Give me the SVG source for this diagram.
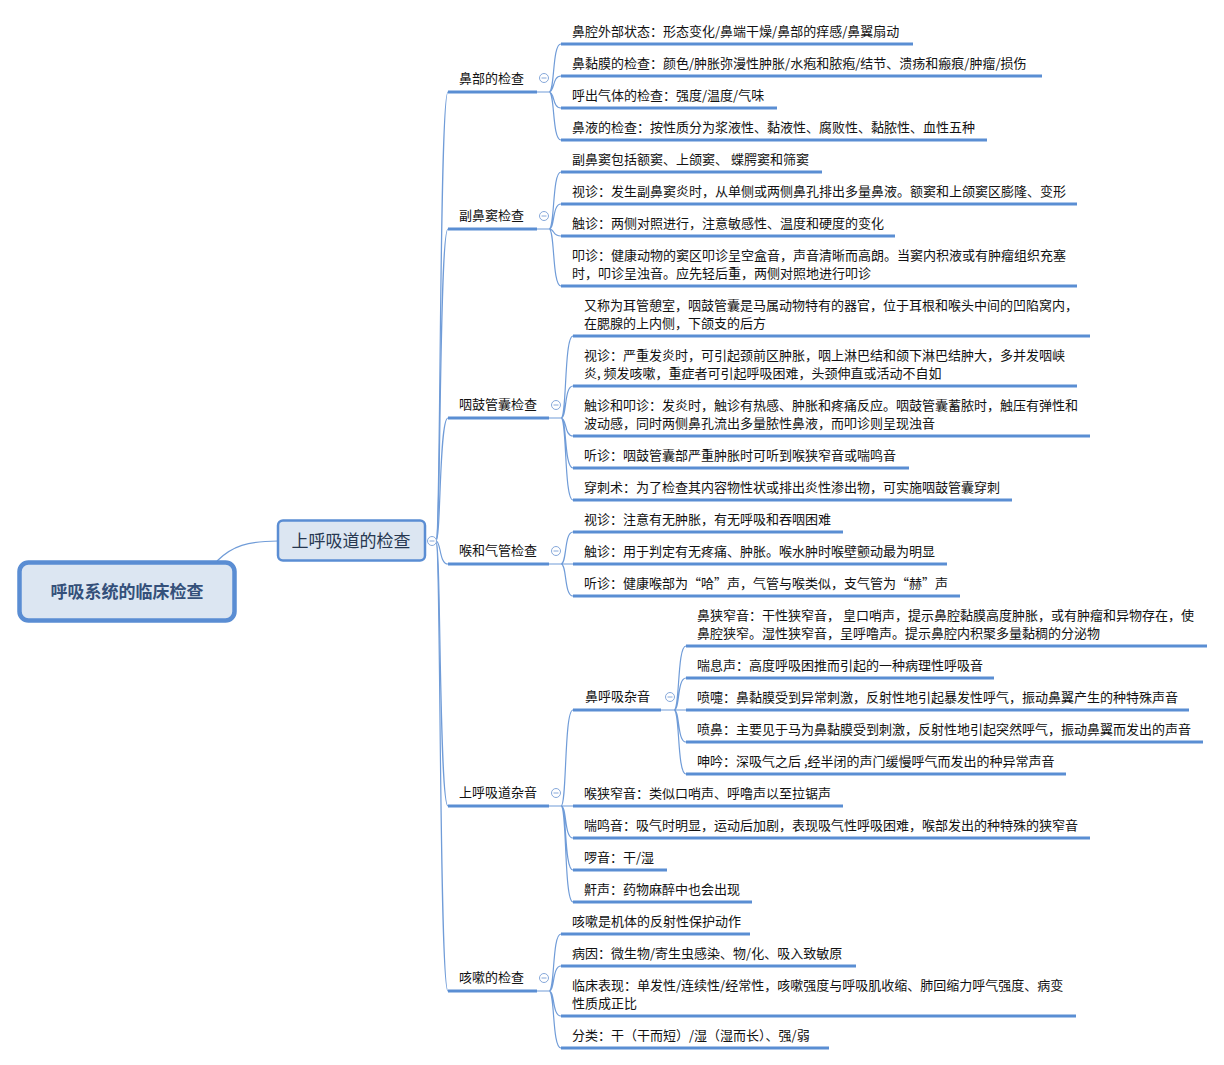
<svg xmlns="http://www.w3.org/2000/svg" width="1224" height="1065" viewBox="0 0 1224 1065">
<style>
text{font-family:"Noto Sans CJK SC","Noto Sans",sans-serif;}
.lf{font-size:13px;fill:#111;}
.ul{stroke:#5a8ed3;stroke-width:3;fill:none;}
.cn{fill:none;stroke:#709cd8;stroke-width:1.2;}
</style>
<defs>
<g id="tog"><circle cx="0" cy="0" r="4.5" fill="#fff" stroke="#86a8da" stroke-width="1"/><line x1="-2.5" y1="0" x2="2.5" y2="0" stroke="#86a8da" stroke-width="1"/></g>
</defs>
<rect width="1224" height="1065" fill="#fff"/>
<g id="connectors">
<path class="cn" d="M217,561 C232,546 248,541 278,541"/>
<path class="cn" d="M436,541 C441,541 439,92 448,92"/>
<path class="cn" d="M436,541 C441,541 439,229 448,229"/>
<path class="cn" d="M436,541 C441,541 439,418 448,418"/>
<path class="cn" d="M436,541 C441,541 439,564 448,564"/>
<path class="cn" d="M436,541 C441,541 439,806 448,806"/>
<path class="cn" d="M436,541 C441,541 439,991 448,991"/>
<path class="cn" d="M537,92 L549,92 M549,92 C555,92 552,44 561,44 M549,92 C555,92 552,76 561,76 M549,92 C555,92 552,108 561,108 M549,92 C555,92 552,140 561,140"/>
<path class="cn" d="M537,229 L549,229 M549,229 C555,229 552,172 561,172 M549,229 C555,229 552,204 561,204 M549,229 C555,229 552,236 561,236 M549,229 C555,229 552,286 561,286"/>
<path class="cn" d="M549,418 L561,418 M561,418 C567,418 564,336 573,336 M561,418 C567,418 564,386 573,386 M561,418 C567,418 564,436 573,436 M561,418 C567,418 564,468 573,468 M561,418 C567,418 564,500 573,500"/>
<path class="cn" d="M549,564 L561,564 M561,564 C567,564 564,532 573,532 M561,564 L573,564 M561,564 C567,564 564,596 573,596"/>
<path class="cn" d="M549,806 L561,806 M561,806 C567,806 564,710 573,710 M561,806 L573,806 M561,806 C567,806 564,838 573,838 M561,806 C567,806 564,870 573,870 M561,806 C567,806 564,902 573,902"/>
<path class="cn" d="M661,710 L674,710 M674,710 C680,710 677,646 686,646 M674,710 C680,710 677,678 686,678 M674,710 L686,710 M674,710 C680,710 677,742 686,742 M674,710 C680,710 677,774 686,774"/>
<path class="cn" d="M537,991 L549,991 M549,991 C555,991 552,934 561,934 M549,991 C555,991 552,966 561,966 M549,991 C555,991 552,1016 561,1016 M549,991 C555,991 552,1048 561,1048"/>
</g>
<g id="root">
<rect x="19.5" y="562.5" width="215" height="58" rx="9" fill="#dce6f2" stroke="#5a8dd3" stroke-width="4.5"/>
<text x="127" y="598" text-anchor="middle" font-size="17" font-weight="bold" fill="#34507a">呼吸系统的临床检查</text>
</g>
<g id="upper">
<rect x="278" y="520.5" width="147" height="40" rx="5" fill="#dce6f2" stroke="#5a8dd3" stroke-width="2.5"/>
<text x="351" y="546.5" text-anchor="middle" font-size="17" fill="#263750">上呼吸道的检查</text>
<use href="#tog" x="432" y="541"/>
</g>
<g id="n1">
<text class="lf" x="459" y="83">鼻部的检查</text><line class="ul" x1="448" y1="92" x2="537" y2="92"/>
<use href="#tog" x="544" y="78"/>
</g>
<g id="n1a"><text class="lf" x="572" y="36">鼻腔外部状态：形态变化/鼻端干燥/鼻部的痒感/鼻翼扇动</text><line class="ul" x1="561" y1="44" x2="913" y2="44"/></g>
<g id="n1b"><text class="lf" x="572" y="68">鼻黏膜的检查：颜色/肿胀弥漫性肿胀/水疱和脓疱/结节、溃疡和瘢痕/肿瘤/损伤</text><line class="ul" x1="561" y1="76" x2="1042" y2="76"/></g>
<g id="n1c"><text class="lf" x="572" y="100">呼出气体的检查：强度/温度/气味</text><line class="ul" x1="561" y1="108" x2="777" y2="108"/></g>
<g id="n1d"><text class="lf" x="572" y="132">鼻液的检查：按性质分为浆液性、黏液性、腐败性、黏脓性、血性五种</text><line class="ul" x1="561" y1="140" x2="987" y2="140"/></g>
<g id="n2">
<text class="lf" x="459" y="220">副鼻窦检查</text><line class="ul" x1="448" y1="229" x2="537" y2="229"/>
<use href="#tog" x="544" y="216"/>
</g>
<g id="n2a"><text class="lf" x="572" y="164">副鼻窦包括额窦、上颌窦、 蝶腭窦和筛窦</text><line class="ul" x1="561" y1="172" x2="822" y2="172"/></g>
<g id="n2b"><text class="lf" x="572" y="196">视诊：发生副鼻窦炎时，从单侧或两侧鼻孔排出多量鼻液。额窦和上颌窦区膨隆、变形</text><line class="ul" x1="561" y1="204" x2="1077" y2="204"/></g>
<g id="n2c"><text class="lf" x="572" y="228">触诊：两侧对照进行，注意敏感性、温度和硬度的变化</text><line class="ul" x1="561" y1="236" x2="895" y2="236"/></g>
<g id="n2d"><text class="lf" x="572" y="260">叩诊：健康动物的窦区叩诊呈空盒音，声音清晰而高朗。当窦内积液或有肿瘤组织充塞</text><text class="lf" x="572" y="278">时，叩诊呈浊音。应先轻后重，两侧对照地进行叩诊</text><line class="ul" x1="561" y1="286" x2="1077" y2="286"/></g>
<g id="n3">
<text class="lf" x="459" y="409">咽鼓管囊检查</text><line class="ul" x1="448" y1="418" x2="549" y2="418"/>
<use href="#tog" x="556" y="405"/>
</g>
<g id="n3a"><text class="lf" x="584" y="310">又称为耳管憩室，咽鼓管囊是马属动物特有的器官，位于耳根和喉头中间的凹陷窝内，</text><text class="lf" x="584" y="328">在腮腺的上内侧，下颌支的后方</text><line class="ul" x1="573" y1="336" x2="1090" y2="336"/></g>
<g id="n3b"><text class="lf" x="584" y="360">视诊：严重发炎时，可引起颈前区肿胀，咽上淋巴结和颌下淋巴结肿大，多并发咽峡</text><text class="lf" x="584" y="378">炎, 频发咳嗽，重症者可引起呼吸困难，头颈伸直或活动不自如</text><line class="ul" x1="573" y1="386" x2="1077" y2="386"/></g>
<g id="n3c"><text class="lf" x="584" y="410">触诊和叩诊：发炎时，触诊有热感、肿胀和疼痛反应。咽鼓管囊蓄脓时，触压有弹性和</text><text class="lf" x="584" y="428">波动感，同时两侧鼻孔流出多量脓性鼻液，而叩诊则呈现浊音</text><line class="ul" x1="573" y1="436" x2="1090" y2="436"/></g>
<g id="n3d"><text class="lf" x="584" y="460">听诊：咽鼓管囊部严重肿胀时可听到喉狭窄音或喘鸣音</text><line class="ul" x1="573" y1="468" x2="909" y2="468"/></g>
<g id="n3e"><text class="lf" x="584" y="492">穿刺术：为了检查其内容物性状或排出炎性渗出物，可实施咽鼓管囊穿刺</text><line class="ul" x1="573" y1="500" x2="1012" y2="500"/></g>
<g id="n4">
<text class="lf" x="459" y="555">喉和气管检查</text><line class="ul" x1="448" y1="564" x2="549" y2="564"/>
<use href="#tog" x="556" y="551"/>
</g>
<g id="n4a"><text class="lf" x="584" y="524">视诊：注意有无肿胀，有无呼吸和吞咽困难</text><line class="ul" x1="573" y1="532" x2="843" y2="532"/></g>
<g id="n4b"><text class="lf" x="584" y="556">触诊：用于判定有无疼痛、肿胀。喉水肿时喉壁颤动最为明显</text><line class="ul" x1="573" y1="564" x2="947" y2="564"/></g>
<g id="n4c"><text class="lf" x="584" y="588">听诊：健康喉部为“哈”声，气管与喉类似，支气管为“赫”声</text><line class="ul" x1="573" y1="596" x2="960" y2="596"/></g>
<g id="n5">
<text class="lf" x="459" y="797">上呼吸道杂音</text><line class="ul" x1="448" y1="806" x2="549" y2="806"/>
<use href="#tog" x="556" y="793"/>
</g>
<g id="n5a">
<text class="lf" x="585" y="701">鼻呼吸杂音</text><line class="ul" x1="573" y1="710" x2="661" y2="710"/>
<use href="#tog" x="670" y="697"/>
</g>
<g id="n5a1"><text class="lf" x="697" y="620">鼻狭窄音：干性狭窄音， 皇口哨声，提示鼻腔黏膜高度肿胀，或有肿瘤和异物存在，使</text><text class="lf" x="697" y="638">鼻腔狭窄。湿性狭窄音，呈呼噜声。提示鼻腔内积聚多量黏稠的分泌物</text><line class="ul" x1="686" y1="646" x2="1207" y2="646"/></g>
<g id="n5a2"><text class="lf" x="697" y="670">喘息声：高度呼吸困推而引起的一种病理性呼吸音</text><line class="ul" x1="686" y1="678" x2="994" y2="678"/></g>
<g id="n5a3"><text class="lf" x="697" y="702">喷嚏：鼻黏膜受到异常刺激，反射性地引起暴发性呼气，振动鼻翼产生的种特殊声音</text><line class="ul" x1="686" y1="710" x2="1189" y2="710"/></g>
<g id="n5a4"><text class="lf" x="697" y="734">喷鼻：主要见于马为鼻黏膜受到刺激，反射性地引起突然呼气，振动鼻翼而发出的声音</text><line class="ul" x1="686" y1="742" x2="1203" y2="742"/></g>
<g id="n5a5"><text class="lf" x="697" y="766">呻吟：深吸气之后 ,经半闭的声门缓慢呼气而发出的种异常声音</text><line class="ul" x1="686" y1="774" x2="1066" y2="774"/></g>
<g id="n5b"><text class="lf" x="584" y="798">喉狭窄音：类似口哨声、呼噜声以至拉锯声</text><line class="ul" x1="573" y1="806" x2="843" y2="806"/></g>
<g id="n5c"><text class="lf" x="584" y="830">喘鸣音：吸气时明显，运动后加剧，表现吸气性呼吸困难，喉部发出的种特殊的狭窄音</text><line class="ul" x1="573" y1="838" x2="1090" y2="838"/></g>
<g id="n5d"><text class="lf" x="584" y="862">啰音：干/湿</text><line class="ul" x1="573" y1="870" x2="667" y2="870"/></g>
<g id="n5e"><text class="lf" x="584" y="894">鼾声：药物麻醉中也会出现</text><line class="ul" x1="573" y1="902" x2="752" y2="902"/></g>
<g id="n6">
<text class="lf" x="459" y="982">咳嗽的检查</text><line class="ul" x1="448" y1="991" x2="537" y2="991"/>
<use href="#tog" x="544" y="978"/>
</g>
<g id="n6a"><text class="lf" x="572" y="926">咳嗽是机体的反射性保护动作</text><line class="ul" x1="561" y1="934" x2="750" y2="934"/></g>
<g id="n6b"><text class="lf" x="572" y="958">病因：微生物/寄生虫感染、物/化、吸入致敏原</text><line class="ul" x1="561" y1="966" x2="856" y2="966"/></g>
<g id="n6c"><text class="lf" x="572" y="990">临床表现：单发性/连续性/经常性，咳嗽强度与呼吸肌收缩、肺回缩力呼气强度、病变</text><text class="lf" x="572" y="1008">性质成正比</text><line class="ul" x1="561" y1="1016" x2="1076" y2="1016"/></g>
<g id="n6d"><text class="lf" x="572" y="1040">分类：干（干而短）/湿（湿而长）、强/弱</text><line class="ul" x1="561" y1="1048" x2="829" y2="1048"/></g>
</svg>
